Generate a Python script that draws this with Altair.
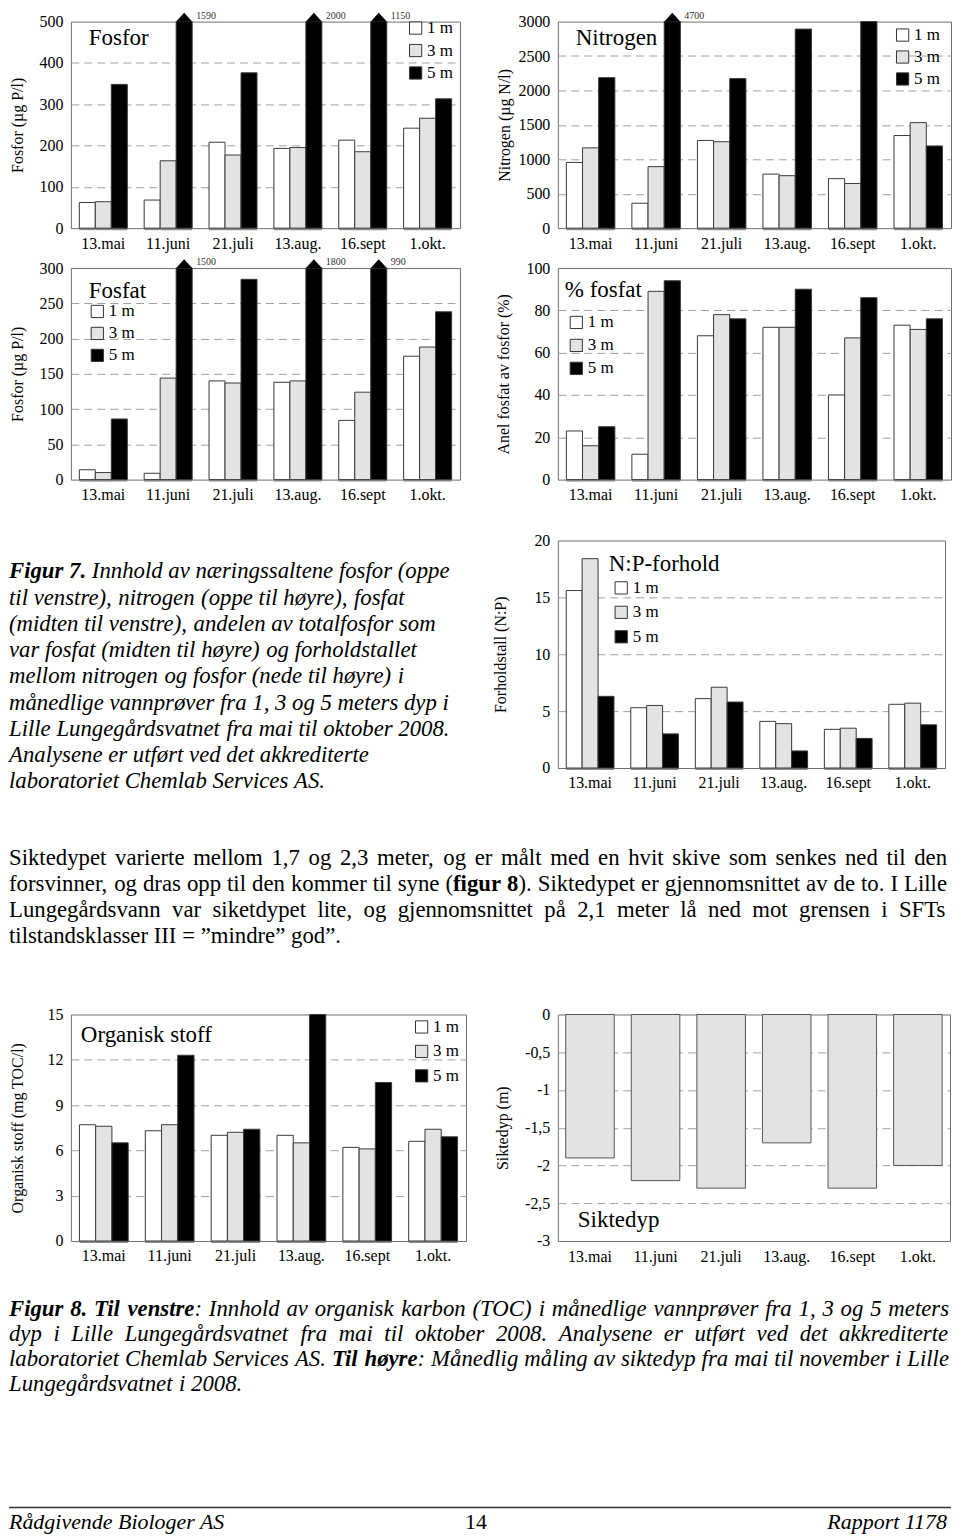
import altair as alt
import pandas as pd

FONT = "Liberation Serif"
BORDER = "#6e6e6e"
GRID = "#a0a0a0"

# ---------------- data ----------------
dates = ["13.mai", "11.juni", "21.juli", "13.aug.", "16.sept", "1.okt."]
depths = ["1 m", "3 m", "5 m"]
depth_colors = ["#ffffff", "#e3e3e3", "#000000"]

fosfor_1m = [62, 68, 208, 193, 213, 242]
fosfor_3m = [64, 163, 177, 195, 185, 266]
fosfor_5m = [348, 1590, 376, 2000, 1150, 313]
fosfor_ticks = [0, 100, 200, 300, 400, 500]

nitrogen_1m = [954, 362, 1274, 785, 719, 1345]
nitrogen_3m = [1166, 893, 1255, 762, 649, 1533]
nitrogen_5m = [2186, 4700, 2172, 2891, 3000, 1194]
nitrogen_ticks = [0, 500, 1000, 1500, 2000, 2500, 3000]

fosfat_1m = [14, 9, 140, 138, 84, 175]
fosfat_3m = [10, 144, 137, 140, 124, 188]
fosfat_5m = [86, 1500, 284, 1800, 990, 238]
fosfat_ticks = [0, 50, 100, 150, 200, 250, 300]

andel_1m = [23, 12, 68, 72, 40, 73]
andel_3m = [16, 89, 78, 72, 67, 71]
andel_5m = [25, 94, 76, 90, 86, 76]
andel_ticks = [0, 20, 40, 60, 80, 100]

np_1m = [15.6, 5.3, 6.1, 4.1, 3.4, 5.6]
np_3m = [18.4, 5.5, 7.1, 3.9, 3.5, 5.7]
np_5m = [6.3, 3.0, 5.8, 1.5, 2.6, 3.8]
np_ticks = [0, 5, 10, 15, 20]

toc_1m = [7.7, 7.3, 7.0, 7.0, 6.2, 6.6]
toc_3m = [7.6, 7.7, 7.2, 6.5, 6.1, 7.4]
toc_5m = [6.5, 12.3, 7.4, 15.0, 10.5, 6.9]
toc_ticks = [0, 3, 6, 9, 12, 15]

siktedyp = [-1.9, -2.2, -2.3, -1.7, -2.3, -2.0]
sikt_ticks = [0, -0.5, -1, -1.5, -2, -2.5, -3]

# ---------------- text ----------------
fig7_lines = [
    "**Figur 7.** Innhold av næringssaltene fosfor (oppe",
    "til venstre), nitrogen (oppe til høyre), fosfat",
    "(midten til venstre), andelen av totalfosfor som",
    "var fosfat (midten til høyre) og forholdstallet",
    "mellom nitrogen og fosfor (nede til høyre) i",
    "månedlige vannprøver fra 1, 3 og 5 meters dyp i",
    "Lille Lungegårdsvatnet fra mai til oktober 2008.",
    "Analysene er utført ved det akkrediterte",
    "laboratoriet Chemlab Services AS.",
]
para_lines = [
    "Siktedypet varierte mellom 1,7 og 2,3 meter, og er målt med en hvit skive som senkes ned til den",
    "forsvinner, og dras opp til den kommer til syne (**figur 8**). Siktedypet er gjennomsnittet av de to. I Lille",
    "Lungegårdsvann var siketdypet lite, og gjennomsnittet på 2,1 meter lå ned mot grensen i SFTs",
    "tilstandsklasser III = \u201dmindre\u201d god\u201d.",
]
fig8_lines = [
    "**Figur 8. Til venstre**: Innhold av organisk karbon (TOC) i månedlige vannprøver fra 1, 3 og 5 meters",
    "dyp i Lille Lungegårdsvatnet fra mai til oktober 2008. Analysene er utført ved det akkrediterte",
    "laboratoriet Chemlab Services AS. **Til høyre**: Månedlig måling av siktedyp fra mai til november i Lille",
    "Lungegårdsvatnet i 2008.",
]
footer_left = "Rådgivende Biologer AS"
footer_page = "14"
footer_right = "Rapport 1178"


# ---------------- font metrics (Times-compatible) ----------------
def _mk(lower, upper, extra):
    d = dict(zip("abcdefghijklmnopqrstuvwxyz", lower))
    d.update(zip("ABCDEFGHIJKLMNOPQRSTUVWXYZ", upper))
    d.update({c: 500 for c in "0123456789"})
    d.update(extra)
    return d


W_REG = _mk([444, 500, 444, 500, 444, 333, 500, 500, 278, 278, 500, 278, 778, 500, 500, 500, 500, 333, 389, 278, 500, 500, 722, 500, 500, 444],
            [722, 667, 667, 722, 611, 556, 722, 722, 333, 389, 722, 611, 889, 722, 722, 556, 722, 667, 556, 611, 722, 722, 944, 722, 722, 611],
            {" ": 250, ",": 250, ".": 250, "(": 333, ")": 333, ":": 278, "=": 564, "\u201d": 444, "-": 333,
             "å": 444, "ø": 500, "æ": 667, "/": 278})
W_ITA = _mk([500, 500, 444, 500, 444, 278, 500, 500, 278, 278, 444, 278, 722, 500, 500, 500, 500, 389, 389, 278, 500, 444, 667, 444, 444, 389],
            [611, 611, 667, 722, 611, 611, 722, 722, 333, 444, 667, 556, 833, 667, 722, 611, 722, 611, 500, 556, 722, 611, 833, 611, 556, 556],
            {" ": 250, ",": 250, ".": 250, "(": 333, ")": 333, ":": 333, "-": 333, "å": 500, "ø": 500, "æ": 667, "/": 278})
W_BOLD = _mk([500, 556, 444, 556, 444, 333, 500, 556, 278, 333, 556, 278, 833, 556, 500, 556, 556, 444, 389, 333, 556, 500, 722, 500, 500, 444],
             [722, 667, 722, 722, 667, 611, 778, 778, 389, 500, 778, 667, 944, 722, 778, 611, 778, 722, 556, 667, 722, 722, 1000, 722, 722, 667],
             {" ": 250, ",": 250, ".": 250, "(": 333, ")": 333, ":": 333, "-": 333, "å": 500, "ø": 500, "æ": 722})
W_BI = _mk([500, 500, 444, 500, 444, 333, 500, 556, 278, 278, 500, 278, 778, 556, 500, 500, 500, 389, 389, 278, 556, 444, 667, 500, 444, 389],
           [667, 667, 667, 722, 667, 667, 722, 778, 389, 500, 667, 611, 889, 722, 722, 611, 722, 667, 556, 611, 722, 667, 889, 667, 611, 611],
           {" ": 250, ",": 250, ".": 250, "(": 333, ")": 333, ":": 333, "-": 333, "å": 500, "ø": 500, "æ": 722})


def text_w(s, italic, bold, fs):
    tbl = (W_BI if bold else W_ITA) if italic else (W_BOLD if bold else W_REG)
    return sum(tbl.get(c, 500) for c in s) * fs / 1000.0


def parse_words(line):
    words, cur, buf, bold, i = [], [], "", False, 0
    while i < len(line):
        if line.startswith("**", i):
            if buf:
                cur.append((buf, bold))
                buf = ""
            bold = not bold
            i += 2
            continue
        ch = line[i]
        if ch == " ":
            if buf:
                cur.append((buf, bold))
                buf = ""
            if cur:
                words.append(cur)
                cur = []
        else:
            buf += ch
        i += 1
    if buf:
        cur.append((buf, bold))
    if cur:
        words.append(cur)
    return words


def word_w(word, italic, fs):
    return sum(text_w(t, italic, b, fs) for t, b in word)


def fit_size(lines, italic, width, fs_max, justify):
    fs = fs_max
    for i, line in enumerate(lines):
        words = parse_words(line)
        g = 0.2 if (justify and i < len(lines) - 1) else 0.25
        em = sum(word_w(w, italic, 1.0) for w in words) + g * (len(words) - 1)
        fs = min(fs, width / em)
    return fs


def layout_block(lines, italic, fs, y0, step, width, justify):
    rows = []
    for li, line in enumerate(lines):
        words = parse_words(line)
        ww = [word_w(w, italic, fs) for w in words]
        if justify and li < len(lines) - 1 and len(words) > 1:
            gap = (width - sum(ww)) / (len(words) - 1)
        else:
            gap = 0.25 * fs
        x = 0.0
        for w in words:
            for t, b in w:
                rows.append({"x": round(x, 2), "y": round(y0 + li * step, 2), "text": t, "bold": b})
                x += text_w(t, italic, b, fs)
            x += gap
    return pd.DataFrame(rows)


def text_marks(df, italic, fs):
    layers = []
    for b in (False, True):
        sub = df[df["bold"] == b][["x", "y", "text"]]
        if len(sub):
            layers.append(
                alt.Chart(sub).mark_text(
                    align="left", baseline="middle", font=FONT, fontSize=fs,
                    fontStyle="italic" if italic else "normal",
                    fontWeight="bold" if b else "normal", color="black",
                ).encode(
                    x=alt.X("x:Q", scale=None, axis=None),
                    y=alt.Y("y:Q", scale=None, axis=None),
                    text="text:N",
                )
            )
    return layers


def label_mark(text, x, y, align, italic, fs):
    return alt.Chart(pd.DataFrame({"t": [text]})).mark_text(
        align=align, baseline="middle", font=FONT, fontSize=fs,
        fontStyle="italic" if italic else "normal", color="black",
    ).encode(x=alt.value(x), y=alt.value(y), text="t:N")


def spacer(w, h):
    return alt.Chart(pd.DataFrame({"a": [0]})).mark_point(opacity=0, size=1).encode(
        x=alt.value(0), y=alt.value(0)
    ).properties(width=w, height=h)


# ---------------- chart helpers ----------------
TRI = "M-1,0L1,0L0,-1.1Z"


def x_axis(pad=7):
    return alt.Axis(labelAngle=0, domain=False, ticks=False, labelPadding=pad, labelFontSize=16)


def y_axis(ticks, h, tx, label_expr=None):
    lo, hi = min(ticks), max(ticks)
    kw = dict(
        values=ticks, domain=False, ticks=False, labelPadding=8, labelFontSize=16,
        grid=True, gridDash=[8, 5], gridColor=GRID, gridWidth=1,
        gridOpacity={"condition": {"test": f"datum.value <= {lo} || datum.value >= {hi}", "value": 0}, "value": 1},
        titleAngle=270, titleX=tx, titleY=h / 2, titleAlign="center", titleBaseline="middle",
        titleFontSize=16, titleFontWeight="normal",
    )
    if label_expr:
        kw["labelExpr"] = label_expr
    else:
        kw["format"] = "d"
    return alt.Axis(**kw)


def bar_panel(v1, v3, v5, ticks, w, h, title, ytitle, ytx, tpos, lpos, lpad):
    ymax = max(ticks)
    df = pd.DataFrame({
        "date": [d for d in dates for _ in depths],
        "depth": depths * len(dates),
        "value": [v for trio in zip(v1, v3, v5) for v in trio],
    })
    df["shown"] = df["value"].clip(upper=ymax)
    x = alt.X("date:N", sort=dates, title=None,
              scale=alt.Scale(paddingInner=0.26, paddingOuter=0.13), axis=x_axis())
    xo = alt.XOffset("depth:N", sort=depths, scale=alt.Scale(paddingInner=0, paddingOuter=0))
    y = alt.Y("shown:Q", title=ytitle, scale=alt.Scale(domain=[0, ymax], nice=False),
              axis=y_axis(ticks, h, ytx))
    color = alt.Color(
        "depth:N", sort=depths, scale=alt.Scale(domain=depths, range=depth_colors),
        legend=alt.Legend(
            title=None, orient="none", legendX=lpos[0], legendY=lpos[1], direction="vertical",
            symbolType="square", symbolSize=150, symbolStrokeColor="#333333", symbolStrokeWidth=1,
            symbolOpacity=1, labelFontSize=17, labelFont=FONT, labelColor="black", labelOffset=3,
            rowPadding=lpad, padding=0,
        ),
    )
    base = alt.Chart(df)
    shadow = base.mark_bar(color="#8c8c8c", xOffset=2, x2Offset=2, yOffset=2).encode(x=x, xOffset=xo, y=y)
    bars = base.mark_bar(stroke="#3a3a3a", strokeWidth=1).encode(x=x, xOffset=xo, y=y, color=color)
    over = base.transform_filter(f"datum.value > {ymax}")
    tri = over.mark_point(shape=TRI, size=256, filled=True, color="black", opacity=1, strokeWidth=0).encode(
        x=x, xOffset=xo, y=y)
    lab = over.mark_text(align="left", baseline="middle", dx=12, dy=-6, fontSize=10, font=FONT,
                         color="#333333").encode(x=x, xOffset=xo, y=y, text=alt.Text("value:Q", format="d"))
    ttl = label_mark(title, tpos[0], tpos[1], "left", False, 23)
    return alt.layer(shadow, bars, tri, lab, ttl).properties(
        width=w, height=h, view=alt.ViewBackground(stroke=BORDER, strokeWidth=1, strokeOpacity=1))


def sikt_panel(w, h):
    df = pd.DataFrame({"date": dates, "value": siktedyp})
    x = alt.X("date:N", sort=dates, title=None,
              scale=alt.Scale(paddingInner=0.26, paddingOuter=0.12), axis=x_axis(8))
    y = alt.Y("value:Q", title="Siktedyp (m)", scale=alt.Scale(domain=[-3, 0], nice=False),
              axis=y_axis(sikt_ticks, h, -55, "replace(toString(datum.value), '.', ',')"))
    bars = alt.Chart(df).mark_bar(fill="#e3e3e3", stroke="#555555", strokeWidth=1).encode(x=x, y=y)
    ttl = label_mark("Siktedyp", 20, 206, "left", False, 23)
    return alt.layer(bars, ttl).properties(
        width=w, height=h, view=alt.ViewBackground(stroke=BORDER, strokeWidth=1, strokeOpacity=1))


# ---------------- panels ----------------
H1, G1, H2, G2, H3, H4, H5, H6 = 207, 40, 212, 61, 228, 247, 227, 290
C0, C1, C2 = 62, 396, 92   # column widths -> left plots at page 70, right plots at page 558

fosfor = bar_panel(fosfor_1m, fosfor_3m, fosfor_5m, fosfor_ticks, 390, H1, "Fosfor",
                   "Fosfor (µg P/l)", -53, (18, 16), (337, -2), 4.5)
nitrogen = bar_panel(nitrogen_1m, nitrogen_3m, nitrogen_5m, nitrogen_ticks, 394, H1, "Nitrogen",
                     "Nitrogen (µg N/l)", -53, (18, 16), (337, 5), 4)
fosfat = bar_panel(fosfat_1m, fosfat_3m, fosfat_5m, fosfat_ticks, 390, H2, "Fosfat",
                   "Fosfor (µg P/l)", -53, (18, 23), (18, 35), 4)
andel = bar_panel(andel_1m, andel_3m, andel_5m, andel_ticks, 394, H2, "% fosfat",
                  "Anel fosfat av fosfor (%)", -54, (7, 22), (10, 46), 5)
npr = bar_panel(np_1m, np_3m, np_5m, np_ticks, 388, H3, "N:P-forhold",
                "Forholdstall (N:P)", -57, (51, 24), (55, 39), 6.5)
toc = bar_panel(toc_1m, toc_3m, toc_5m, toc_ticks, 396, H5, "Organisk stoff",
                "Organisk stoff  (mg TOC/l)", -53, (10, 21), (343, 4), 6.5)
sikt = sikt_panel(393, H5)

# text blocks
FS7 = fit_size(fig7_lines, True, 538, 22.8, False)
cap7_df = layout_block(fig7_lines, True, FS7, 31, 26.3, 538, False)
cap7 = alt.layer(*text_marks(cap7_df, True, FS7)).properties(width=1, height=H3)

FSP = fit_size(para_lines, False, 940, 22.8, True)
para_df = layout_block(para_lines, False, FSP, 90, 26, 940, True)
para = alt.layer(*text_marks(para_df, False, FSP)).properties(width=1, height=H4)

FS8 = fit_size(fig8_lines, True, 942, 22.8, True)
cap8_df = layout_block(fig8_lines, True, FS8, 68, 25, 942, True)
rule = alt.Chart(pd.DataFrame({"a": [0]})).mark_rule(color="#333333", strokeWidth=1.5).encode(
    x=alt.value(0), x2=alt.value(944), y=alt.value(267))
foot = [
    label_mark(footer_left, 0, 282, "left", True, 22),
    label_mark(footer_page, 468, 282, "center", False, 22),
    label_mark(footer_right, 940, 282, "right", True, 22),
]
cap8 = alt.layer(*text_marks(cap8_df, True, FS8), rule, *foot).properties(width=1, height=H6)

grid = [
    [spacer(C0, H1), fosfor, spacer(C2, H1), nitrogen],
    [spacer(C0, G1), spacer(C1, G1), spacer(C2, G1), spacer(1, G1)],
    [spacer(C0, H2), fosfat, spacer(C2, H2), andel],
    [spacer(1, G2), spacer(1, G2), spacer(1, G2), spacer(1, G2)],
    [cap7, spacer(1, H3), spacer(1, H3), npr],
    [para, spacer(1, H4), spacer(1, H4), spacer(1, H4)],
    [spacer(C0, H5), toc, spacer(C2, H5), sikt],
    [cap8, spacer(1, H6), spacer(1, H6), spacer(1, H6)],
]
items = [c for row in grid for c in row]

chart = alt.concat(
    *items, columns=4, spacing=0, bounds="flush", padding=0,
).resolve_scale(
    color="independent", xOffset="independent"
).resolve_legend(
    color="independent"
).configure(font=FONT, background="white").configure_view(
    strokeOpacity=0
).configure_axis(
    labelFont=FONT, titleFont=FONT, labelColor="black", titleColor="black"
).configure_legend(labelFont=FONT)

chart.save("out.html", embed_options={"renderer": "svg", "actions": False})
